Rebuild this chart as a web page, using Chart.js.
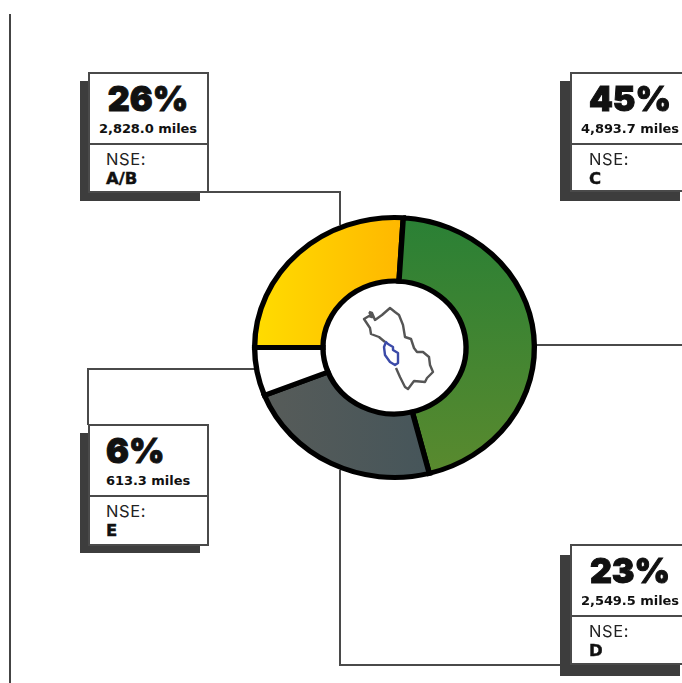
<!DOCTYPE html>
<html>
<head>
<meta charset="utf-8">
<script src="https://cdn.jsdelivr.net/npm/chart.js@4/dist/chart.umd.min.js"></script>
<style>
  html, body { margin: 0; padding: 0; background: #fff; }
  #page { position: relative; width: 682px; height: 683px; overflow: hidden; font-family: "Inter", "Open Sans", sans-serif; color: #111; }
  #page > svg, #page > canvas { position: absolute; left: 0; top: 0; }
  .shadow { position: absolute; background: #3d3d3d; }
  .card { position: absolute; box-sizing: border-box; background: #fff; border: 2px solid #4a4a4a; }
  .divider { position: absolute; left: 0; right: 0; height: 2px; background: #4a4a4a; }
  .t { position: absolute; white-space: nowrap; line-height: 1; }
  .pct { font-weight: 900; font-size: 34px; -webkit-text-stroke: 1px #111; }
  .miles { font-family: "DejaVu Sans", sans-serif; font-weight: 700; font-size: 13px; letter-spacing: -0.05px; }
  .nse { font-family: "Inter", sans-serif; font-weight: 400; font-size: 16.5px; letter-spacing: 0.6px; color: #222; }
  .cls { font-family: "DejaVu Sans", sans-serif; font-weight: 700; font-size: 16.5px; -webkit-text-stroke: 0.4px #111; }
</style>
</head>
<body>
<div id="page">
  <svg width="682" height="683" fill="none">
    <path d="M10 14V683" stroke="#444" stroke-width="2"/>
    <g stroke="#4a4a4a" stroke-width="2">
      <path d="M208 192H340V225"/>
      <path d="M530 345H682"/>
      <path d="M88 425V369H260"/>
      <path d="M340 470V665H562"/>
    </g>
  </svg>
  <canvas id="ring" width="682" height="683"></canvas>
  <svg width="682" height="683" fill="none" stroke-linejoin="round" stroke-width="2.4">
    <path stroke="#555" d="M369 312 L372 313 L375 320 L382 315 L390 308 L395 312 L399 315 L403 325 L405 337 L411 339 L414 348 L417 352 L423 352 L429 357 L430 365 L433 372 L427 378 L425 382 L414 381 L408 389 L405 387 L400 377 L396 368 M385 342 L379 337 L371 334 L370 328 L364 319 L369 316 L372 317 L369 312"/>
    <path stroke="#3b4aa8" d="M386 342 L384 347 L385 355 L390 362 L395 365 L398 363 L398 353 L393 350 L393 347 L388 344 Z"/>
  </svg>
  <div id="cards"></div>
</div>
<script>
// Share of road length by socioeconomic level (NSE)
const levels = ["A/B", "C", "D", "E"];
const shares = [26, 45, 23, 6];
const miles = ["2,828.0 miles", "4,893.7 miles", "2,549.5 miles", "613.3 miles"];

// Ring proportions on the page: slightly wider than it is tall
const ringCenter = { x: 394.5, y: 347.5 };
const ringRadius = 130;
const ringHole = 66.5;
const ringStretch = 1.076;

function sliceFill(context) {
  const { chart, dataIndex } = context;
  const area = chart.chartArea;
  if (!area) return "#888";
  const g = chart.ctx;
  const cx = (area.left + area.right) / 2;
  const cy = (area.top + area.bottom) / 2;
  const r = ringRadius;
  let grad;
  if (dataIndex === 0) {
    grad = g.createLinearGradient(cx - r, 0, cx + 5, 0);
    grad.addColorStop(0, "#ffdc00");
    grad.addColorStop(1, "#ffb800");
  } else if (dataIndex === 1) {
    grad = g.createLinearGradient(0, cy - r, 0, cy + r);
    grad.addColorStop(0, "#2a8035");
    grad.addColorStop(1, "#5a8a2e");
  } else if (dataIndex === 2) {
    grad = g.createLinearGradient(cx - r, 0, cx + r * 0.3, 0);
    grad.addColorStop(0, "#585c59");
    grad.addColorStop(1, "#45555a");
  } else {
    return "#ffffff";
  }
  return grad;
}

// Widens the ring about its centre while the arcs are painted
const widenRing = {
  id: "widenRing",
  beforeDatasetsDraw(chart) {
    const { ctx, chartArea: a } = chart;
    const cx = (a.left + a.right) / 2;
    ctx.save();
    ctx.translate(cx, 0);
    ctx.scale(ringStretch, 1);
    ctx.translate(-cx, 0);
  },
  afterDatasetsDraw(chart) {
    chart.ctx.restore();
  }
};

new Chart(document.getElementById("ring"), {
  type: "doughnut",
  data: {
    labels: levels,
    datasets: [{
      data: shares,
      backgroundColor: sliceFill,
      borderColor: "#000",
      borderWidth: 5,
      borderJoinStyle: "miter"
    }]
  },
  options: {
    responsive: false,
    animation: false,
    rotation: 270,
    radius: ringRadius,
    cutout: (ringHole / ringRadius * 100) + "%",
    layout: {
      padding: { left: 2 * ringCenter.x - 682, top: 2 * ringCenter.y - 683 }
    },
    plugins: { legend: { display: false }, tooltip: { enabled: false } }
  },
  plugins: [widenRing]
});

// Callout cards around the ring
const cardBoxes = [
  { i: 0, left: 88, top: 72, w: 121, h: 121, split: 71, shadow: [80, 81, 120, 120], pctX: 148, pctAlign: "center" },
  { i: 1, left: 570, top: 72, w: 130, h: 120, split: 71, shadow: [560, 81, 120, 120], pctX: 630, pctAlign: "center" },
  { i: 3, left: 88, top: 424, w: 121, h: 122, split: 71, shadow: [80, 433, 120, 120], pctX: 106, pctAlign: "left" },
  { i: 2, left: 570, top: 544, w: 130, h: 121, split: 71, shadow: [560, 555, 120, 121], pctX: 630, pctAlign: "center" }
];

const host = document.getElementById("cards");
function addText(cls, text, x, y, align) {
  const el = document.createElement("div");
  el.className = "t " + cls;
  el.textContent = text;
  el.style.top = y + "px";
  el.style.left = x + "px";
  if (align === "center") el.style.transform = "translateX(-50%)";
  host.appendChild(el);
}
cardBoxes.forEach(b => {
  const s = document.createElement("div");
  s.className = "shadow";
  s.style.cssText = `left:${b.shadow[0]}px;top:${b.shadow[1]}px;width:${b.shadow[2]}px;height:${b.shadow[3]}px`;
  host.appendChild(s);
  const c = document.createElement("div");
  c.className = "card";
  c.style.cssText = `left:${b.left}px;top:${b.top}px;width:${b.w}px;height:${b.h}px`;
  const d = document.createElement("div");
  d.className = "divider";
  d.style.top = (b.split - 2) + "px";
  c.appendChild(d);
  host.appendChild(c);
  const textX = b.left + 18;
  addText("pct", shares[b.i] + "%", b.pctX, b.top + 10, b.pctAlign);
  addText("miles", miles[b.i], b.pctAlign === "center" ? b.pctX : textX, b.top + 50, b.pctAlign);
  addText("nse", "NSE:", textX + (b.left > 300 ? 1 : 0), b.top + 79, "left");
  addText("cls", levels[b.i], textX + (b.left > 300 ? 1 : 0), b.top + 99, "left");
});
</script>
</body>
</html>
